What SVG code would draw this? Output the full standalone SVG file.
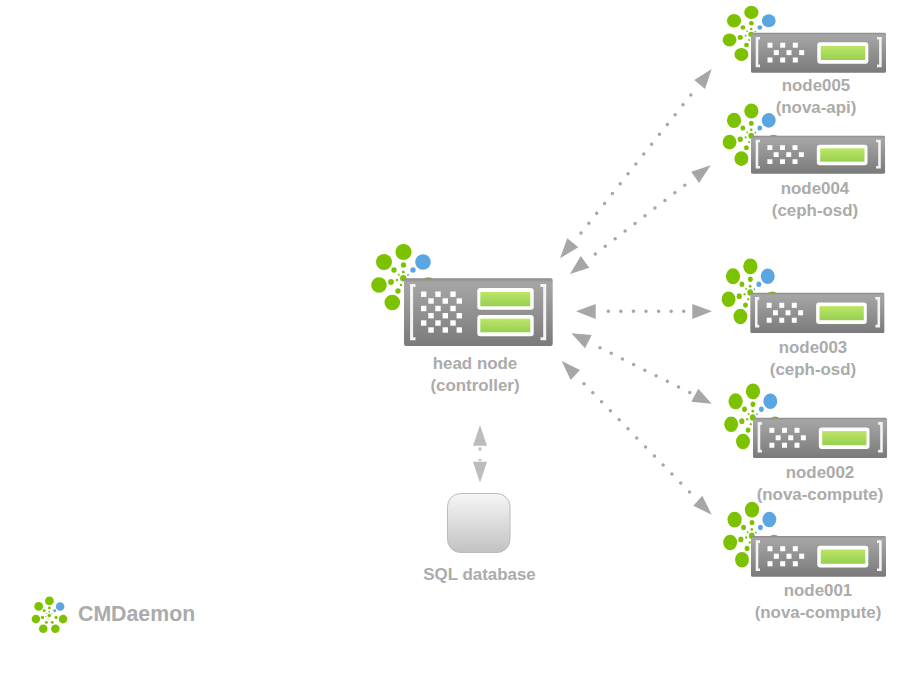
<svg xmlns="http://www.w3.org/2000/svg" width="900" height="675" viewBox="0 0 900 675">
<style>
text{font-family:"Liberation Sans",Arial,sans-serif;font-weight:700;font-size:16.9px;fill:#ababab;text-anchor:middle}
.dots{fill:none;stroke:#a6a6a6;stroke-width:3.5;stroke-linecap:round;stroke-dasharray:0 1}
.head{fill:#a6a6a6}
.dbhead{fill:#bcbcbc}
.g{fill:#7dc200}
.b{fill:#5ba6e1}
.sq{fill:#fff}
.br{fill:none;stroke:#f4f4f4;stroke-width:2.6}
.panel{fill:#fff}
</style>
<defs>
<linearGradient id="body" x1="0" y1="0" x2="0" y2="1"><stop offset="0" stop-color="#8a8a8a"/><stop offset=".06" stop-color="#a6a6a6"/><stop offset="1" stop-color="#7a7a7a"/></linearGradient>
<linearGradient id="lcd" x1="0" y1="0" x2="0" y2="1"><stop offset="0" stop-color="#bde566"/><stop offset="1" stop-color="#97d052"/></linearGradient>
<linearGradient id="db" x1="0" y1="0" x2="0" y2="1"><stop offset="0" stop-color="#f6f6f6"/><stop offset="1" stop-color="#c2c2c2"/></linearGradient>
<g id="logo">
<circle class="g" cx="0.2" cy="-26.3" r="8"/><circle class="g" cx="-19.3" cy="-16.3" r="8"/><circle class="b" cx="19.7" cy="-16.3" r="7.8"/>
<circle class="g" cx="-24.3" cy="6.7" r="7.8"/><circle class="g" cx="25" cy="6.7" r="7.8"/><circle class="g" cx="-11" cy="24.2" r="7.8"/><circle class="g" cx="11" cy="24.2" r="7.8"/>
<circle class="g" cx="-9.3" cy="-8.3" r="2.7"/><circle class="g" cx="0.2" cy="-13.3" r="2.7"/><circle class="b" cx="9.7" cy="-8.3" r="2.7"/>
<circle class="g" cx="-12.3" cy="3.7" r="2.9"/><circle class="g" cx="12.3" cy="3.7" r="2.9"/><circle class="g" cx="-5.3" cy="12.7" r="2.7"/><circle class="g" cx="5.3" cy="12.7" r="2.7"/>
<circle class="g" cx="0" cy="0" r="3.2"/><circle class="g" cx="-4.6" cy="-3.6" r="1"/><circle class="g" cx="0" cy="-6.3" r="1.5"/><circle class="b" cx="4.7" cy="-3.3" r="1"/>
<circle class="g" cx="-6.3" cy="1.7" r="1.2"/><circle class="g" cx="-2.3" cy="6.7" r="1.2"/>
</g>
<g id="small">
<rect x="0" y="0" width="135" height="40" rx="1.5" fill="url(#body)"/>
<path class="br" d="M9 5.6H6V33.2H9M126 5.6H129.4V33.2H126"/>
<g class="sq">
<rect x="16.5" y="10" width="5" height="5"/><rect x="29.2" y="10" width="5" height="5"/><rect x="41.8" y="10" width="5" height="5"/>
<rect x="22.8" y="17.4" width="5" height="5"/><rect x="35.5" y="17.4" width="5" height="5"/><rect x="48.2" y="17.4" width="5" height="5"/>
<rect x="16.5" y="24.8" width="5" height="5"/><rect x="29.2" y="24.8" width="5" height="5"/><rect x="41.8" y="24.8" width="5" height="5"/>
</g>
<rect class="panel" x="66.3" y="9.6" width="51" height="21.4" rx="3"/>
<rect x="69.7" y="13.3" width="44.6" height="14" fill="url(#lcd)"/>
</g>
</defs>

<g id="connectors">
<path class="dots" pathLength="14.02" d="M581 233L691 94.7"/>
<polygon class="head" points="711.7,69 705,89 694.3,80"/>
<polygon class="head" points="560,258.3 567.3,238.3 578.3,247.3"/>
<path class="dots" pathLength="9.02" d="M595.3 254L685 185"/>
<polygon class="head" points="710.7,165.3 699,183 691.3,171.7"/>
<polygon class="head" points="570,274 580.7,256 589.3,267.7"/>
<path class="dots" pathLength="6.02" d="M608.3 311.3H684"/>
<polygon class="head" points="576,311.3 595.7,304 595.7,319"/>
<polygon class="head" points="712,311.3 692.3,304 692.3,319"/>
<path class="dots" pathLength="8.02" d="M600 347.7L690 392.7"/>
<polygon class="head" points="571.3,333.3 591.7,335 585,348.3"/>
<polygon class="head" points="711.7,403.7 698.3,388.7 691.3,401.7"/>
<path class="dots" pathLength="12.02" d="M584 383.7L689.7 492.3"/>
<polygon class="head" points="561.7,361 580,370 570.7,380"/>
<polygon class="head" points="711.7,514.7 702.3,495.7 693.3,505.7"/>
<path d="M480 447.5V461" fill="none" stroke="#bcbcbc" stroke-width="3" stroke-dasharray="3 8.7"/>
<polygon class="dbhead" points="480,425 487,445.7 473,445.7"/>
<polygon class="dbhead" points="480,482.7 487,461.7 473,461.7"/>
</g>

<g id="head-node">
<use href="#logo" transform="translate(403.3 278.3)"/>
<rect x="404" y="278.3" width="148.7" height="67.7" rx="2" fill="url(#body)"/>
<path class="br" d="M415.5 285.5H411.6V338.7H415.5M540.5 285.5H544.7V338.7H540.5" style="stroke-width:3"/>
<g class="sq">
<rect x="421" y="291.5" width="5.4" height="5.4"/><rect x="435.3" y="291.5" width="5.4" height="5.4"/><rect x="450.3" y="291.5" width="5.4" height="5.4"/>
<rect x="428.3" y="298.3" width="5.4" height="5.4"/><rect x="442.6" y="298.3" width="5.4" height="5.4"/><rect x="456.6" y="298.3" width="5.4" height="5.4"/>
<rect x="421" y="305.8" width="5.4" height="5.4"/><rect x="435.3" y="305.8" width="5.4" height="5.4"/><rect x="450.3" y="305.8" width="5.4" height="5.4"/>
<rect x="428.3" y="313" width="5.4" height="5.4"/><rect x="442.6" y="313" width="5.4" height="5.4"/><rect x="456.6" y="313" width="5.4" height="5.4"/>
<rect x="421" y="320.3" width="5.4" height="5.4"/><rect x="435.3" y="320.3" width="5.4" height="5.4"/><rect x="450.3" y="320.3" width="5.4" height="5.4"/>
<rect x="428.3" y="327.3" width="5.4" height="5.4"/><rect x="442.6" y="327.3" width="5.4" height="5.4"/><rect x="456.6" y="327.3" width="5.4" height="5.4"/>
</g>
<rect class="panel" x="477.3" y="288" width="56.4" height="21.7" rx="3"/>
<rect x="480.3" y="292" width="50" height="14.3" fill="url(#lcd)"/>
<rect class="panel" x="477.3" y="315" width="56.4" height="21.3" rx="3"/>
<rect x="480.3" y="318.7" width="50" height="13.6" fill="url(#lcd)"/>
<text x="475" y="369">head node</text>
<text x="475" y="391">(controller)</text>
</g>

<g id="sql-database">
<rect x="447.5" y="493.5" width="62.5" height="59" rx="13" fill="url(#db)" stroke="#bbb" stroke-width="1"/>
<text x="479.5" y="579.5">SQL database</text>
</g>

<g id="node005">
<use href="#logo" transform="translate(751.2 34.3) scale(.89 .833)"/>
<use href="#small" transform="translate(751 32.7)"/>
<text x="816" y="91">node005</text>
<text x="816" y="113">(nova-api)</text>
</g>
<g id="node004">
<use href="#logo" transform="translate(751.2 135.8) scale(.89 .944)"/>
<use href="#small" transform="translate(751 135.7) scale(.993 .95)"/>
<text x="815" y="194">node004</text>
<text x="815" y="216">(ceph-osd)</text>
</g>
<g id="node003">
<use href="#logo" transform="translate(750.2 292.5) scale(.89 .994)"/>
<use href="#small" transform="translate(750.3 292.7) scale(.993 1.008)"/>
<text x="813" y="353">node003</text>
<text x="813" y="375">(ceph-osd)</text>
</g>
<g id="node002">
<use href="#logo" transform="translate(752.8 417.5) scale(.89 .994)"/>
<use href="#small" transform="translate(753 417.7) scale(.993 1.008)"/>
<text x="820" y="478">node002</text>
<text x="820" y="500">(nova-compute)</text>
</g>
<g id="node001">
<use href="#logo" transform="translate(751.8 535.8) scale(.89 .994)"/>
<use href="#small" transform="translate(751 536) scale(1 1.017)"/>
<text x="818" y="596">node001</text>
<text x="818" y="618">(nova-compute)</text>
</g>

<g id="cmdaemon">
<use href="#logo" transform="translate(49.3 615.4) scale(.55)"/>
<text x="78" y="621" style="font-size:21.3px;text-anchor:start">CMDaemon</text>
</g>
</svg>
